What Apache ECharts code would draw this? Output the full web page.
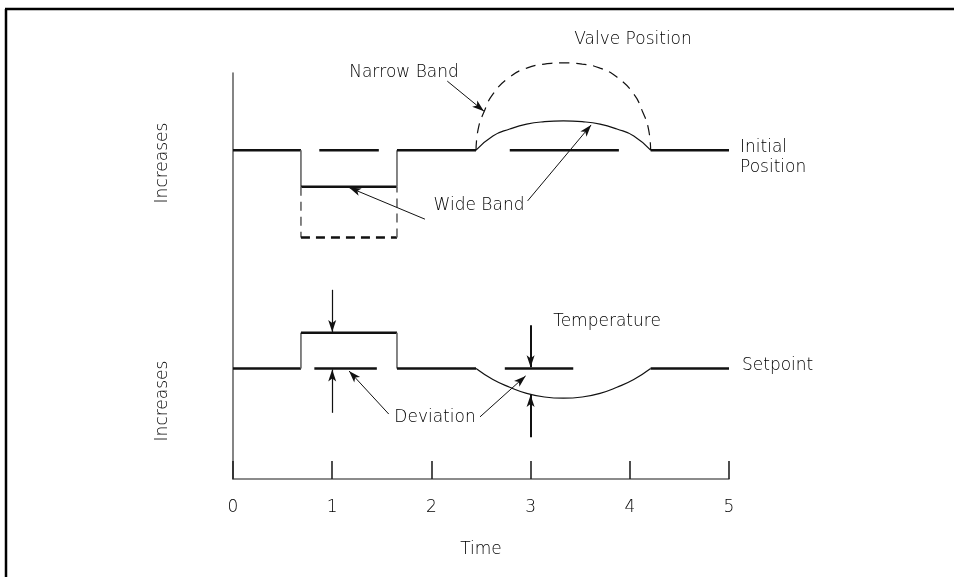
<!DOCTYPE html>
<html>
<head>
<meta charset="utf-8">
<title>Valve Position / Temperature vs Time</title>
<script src="https://cdn.jsdelivr.net/npm/echarts@6/dist/echarts.min.js"></script>
<style>
    html, body { margin: 0; padding: 0; background: #fff; }
    #chart { width: 954px; height: 577px; }
</style>
</head>
<body>
<div id="chart"></div>
<script>
    // time axis
    const timeTicks = [0, 1, 2, 3, 4, 5];

    // upper trace: valve position (arbitrary units)
    const valveStep = [[0, 8.1], [0.685, 8.1], [0.685, 7.2], [1.653, 7.2], [1.653, 8.1], [2.45, 8.1]];
    const valveTail = [[4.21, 8.1], [5.0, 8.1]];
    const valveNarrowDrop = [[0.685, 7.2], [0.685, 5.95], [1.653, 5.95], [1.653, 7.2]];
    const valveRefA = [[0.87, 8.1], [1.47, 8.1]];
    const valveRefB = [[2.79, 8.1], [3.89, 8.1]];
    const valveNarrowArc = [[2.45, 8.1], [2.47, 8.6], [2.53, 9.04], [2.62, 9.48], [2.79, 9.9], [2.96, 10.12],
        [3.14, 10.22], [3.33, 10.25], [3.52, 10.22], [3.7, 10.12], [3.87, 9.9], [4.04, 9.48], [4.13, 9.04],
        [4.19, 8.6], [4.21, 8.1]];
    const valveWideArc = [[2.45, 8.1], [2.62, 8.45], [2.79, 8.62], [2.96, 8.74], [3.14, 8.8], [3.33, 8.82],
        [3.52, 8.8], [3.7, 8.74], [3.87, 8.62], [4.04, 8.45], [4.21, 8.1]];

    // lower trace: temperature
    const tempStep = [[0, 2.72], [0.685, 2.72], [0.685, 3.6], [1.653, 3.6], [1.653, 2.72], [2.45, 2.72]];
    const tempTail = [[4.21, 2.72], [5.0, 2.72]];
    const tempRefA = [[0.82, 2.72], [1.45, 2.72]];
    const tempRefB = [[2.74, 2.72], [3.43, 2.72]];
    const tempDip = [[2.45, 2.72], [2.62, 2.45], [2.79, 2.26], [2.96, 2.11], [3.14, 2.02], [3.33, 1.99],
        [3.52, 2.02], [3.7, 2.11], [3.87, 2.26], [4.04, 2.45], [4.21, 2.72]];

    // deviation arrows: [x, from y, to y, width]
    const devArrows = [[1.0, 4.66, 3.62, 1.2], [1.0, 1.63, 2.7, 1.2], [3.0, 3.79, 2.75, 2], [3.0, 1.03, 2.07, 2]];
    // label leaders: [from, to]
    const leaders = [
        [[2.16, 9.8], [2.53, 9.06]],
        [[1.935, 6.4], [1.17, 7.18]],
        [[2.97, 6.85], [3.61, 8.72]],
        [[1.57, 1.6], [1.17, 2.66]],
        [[2.49, 1.53], [2.95, 2.54]]
    ];
    // "Increases" arrows: [x, from y, to y]
    const increaseArrows = [[-0.363, 6.55, 8.55], [-0.363, 0.79, 2.81]];

    const FONT = '200 17px "DejaVu Sans", sans-serif';
    const INK = '#111';
    const EDGE = '#666';

    function line(points, style, extra) {
        return Object.assign({
            type: 'line', data: points, symbol: 'none', silent: true, animation: false, clip: false,
            lineStyle: style
        }, extra || {});
    }

    // split a step path so flat parts are drawn heavy and the risers light
    function stepSeries(path, dashed) {
        const out = [];
        for (let i = 0; i < path.length - 1; i++) {
            const flat = path[i][1] === path[i + 1][1];
            out.push(line([path[i], path[i + 1]], {
                color: flat ? INK : EDGE,
                width: flat ? 2.5 : 1.6,
                type: dashed ? [9, 6] : 'solid'
            }));
        }
        return out;
    }

    function label(text, x, y, align, rot) {
        return {
            type: 'text', x: x, y: y, rotation: rot || 0, silent: true,
            style: { text: text, font: FONT, fill: '#000', align: align || 'center', verticalAlign: 'middle' }
        };
    }

    const chart = echarts.init(document.getElementById('chart'));

    const series = [].concat(
        stepSeries(valveStep),
        stepSeries(valveNarrowDrop, true),
        stepSeries(tempStep),
        [
            line(valveTail, { color: INK, width: 2.5 }),
            line(valveRefA, { color: INK, width: 2.5 }),
            line(valveRefB, { color: INK, width: 2.5 }),
            line(tempTail, { color: INK, width: 2.5 }),
            line(tempRefA, { color: INK, width: 2.5 }),
            line(tempRefB, { color: INK, width: 2.5 }),
            line(valveNarrowArc, { color: INK, width: 1.2, type: [10, 7] }, { smooth: 0.5 }),
            line(valveWideArc, { color: INK, width: 1.2 }, { smooth: 0.5 }),
            line(tempDip, { color: INK, width: 1.2 }, { smooth: 0.5 }),
            line([], { color: INK, width: 1 }, {
                markLine: {
                    silent: true, animation: false,
                    symbol: ['none', 'arrow'], symbolSize: [6, 12],
                    label: { show: false }, emphasis: { disabled: true },
                    lineStyle: { color: INK, width: 1, type: 'solid' },
                    data: [].concat(
                        leaders.map(l => [{ coord: l[0] }, { coord: l[1] }]),
                        devArrows.map(a => [{ coord: [a[0], a[1]], lineStyle: { width: a[3] } }, { coord: [a[0], a[2]] }]),
                        increaseArrows.map(a => [{ coord: [a[0], a[1]], lineStyle: { width: 1.3 } }, { coord: [a[0], a[2]] }])
                    )
                }
            })
        ]
    );

    chart.setOption({
        backgroundColor: '#fff',
        animation: false,
        grid: { left: 233, right: 225, top: 73, bottom: 98 },
        xAxis: {
            type: 'value', min: timeTicks[0], max: timeTicks[timeTicks.length - 1], interval: 1,
            name: 'Time', nameLocation: 'middle', nameGap: 62,
            nameTextStyle: { fontFamily: 'DejaVu Sans', fontWeight: 200, fontSize: 17, color: '#000' },
            axisLine: { lineStyle: { color: EDGE, width: 1.6 } },
            axisTick: { inside: true, length: 18, lineStyle: { color: '#222', width: 1.6 } },
            axisLabel: { margin: 20, fontFamily: 'DejaVu Sans', fontWeight: 200, fontSize: 17, color: '#000' },
            splitLine: { show: false }
        },
        yAxis: {
            type: 'value', min: 0, max: 10,
            axisLine: { show: true, lineStyle: { color: EDGE, width: 1.6 } },
            axisTick: { show: false }, axisLabel: { show: false }, splitLine: { show: false }
        },
        graphic: [
            { type: 'line', silent: true, shape: { x1: 5, y1: 9, x2: 954, y2: 9 }, style: { stroke: '#000', lineWidth: 2.5 } },
            { type: 'line', silent: true, shape: { x1: 6, y1: 9, x2: 6, y2: 577 }, style: { stroke: '#000', lineWidth: 2.5 } },
            label('Valve Position', 633, 40),
            label('Narrow Band', 404, 73),
            label('Initial', 740, 148, 'left'),
            label('Position', 740, 168, 'left'),
            label('Wide Band', 479, 206),
            label('Temperature', 607, 322),
            label('Setpoint', 742, 366, 'left'),
            label('Deviation', 435, 418),
            label('Increases', 163, 163, 'center', Math.PI / 2),
            label('Increases', 163, 401, 'center', Math.PI / 2)
        ],
        series: series
    });
</script>
</body>
</html>
